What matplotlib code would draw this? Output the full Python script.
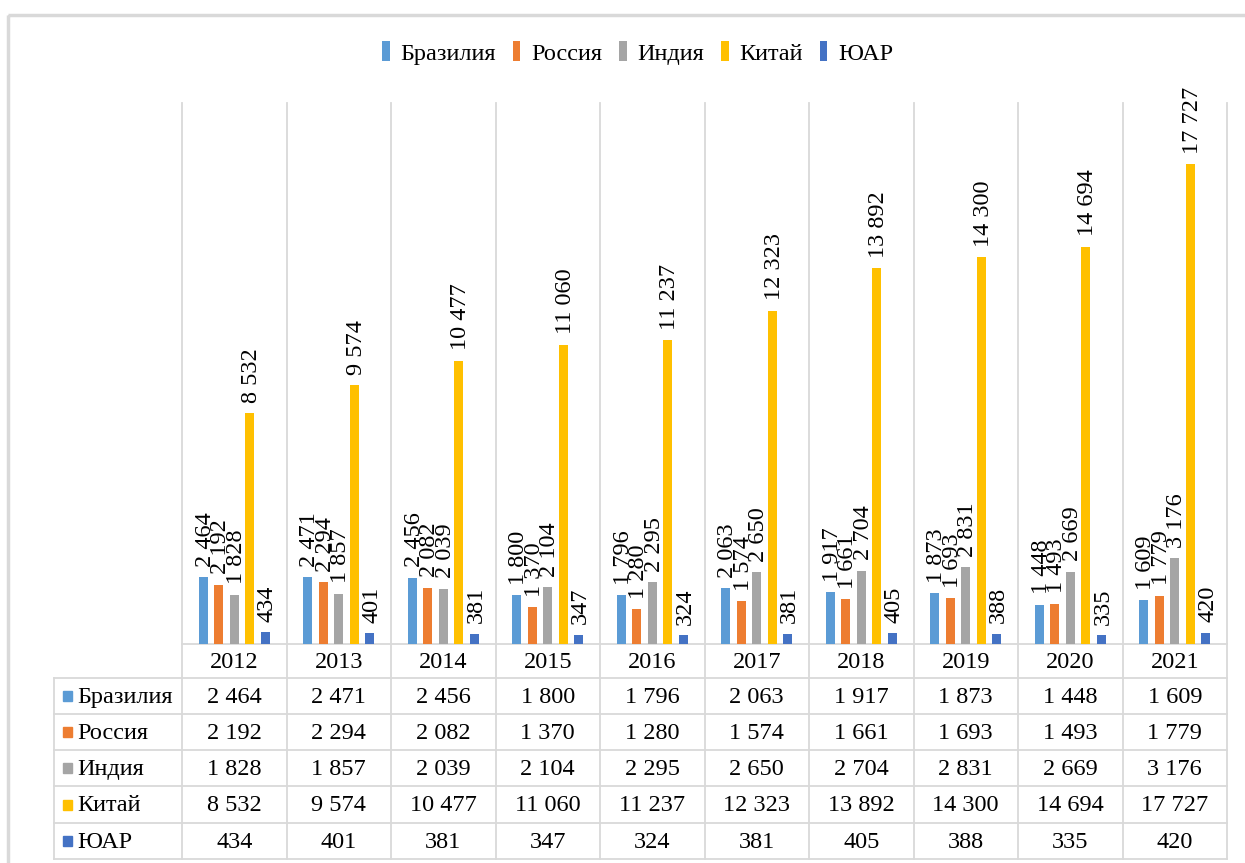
import numpy as np
import matplotlib
matplotlib.use("Agg")
import matplotlib.pyplot as plt
from matplotlib.patches import Rectangle

plt.rcParams['font.family'] = ['Liberation Serif', 'DejaVu Serif']

years = ['2012', '2013', '2014', '2015', '2016', '2017', '2018', '2019', '2020', '2021']
countries = ['Бразилия', 'Россия', 'Индия', 'Китай', 'ЮАР']
brazil = [2464, 2471, 2456, 1800, 1796, 2063, 1917, 1873, 1448, 1609]
russia = [2192, 2294, 2082, 1370, 1280, 1574, 1661, 1693, 1493, 1779]
india = [1828, 1857, 2039, 2104, 2295, 2650, 2704, 2831, 2669, 3176]
china = [8532, 9574, 10477, 11060, 11237, 12323, 13892, 14300, 14694, 17727]
sa = [434, 401, 381, 347, 324, 381, 405, 388, 335, 420]
series = [brazil, russia, india, china, sa]
colors = ['#5B9BD5', '#ED7D31', '#A5A5A5', '#FFC000', '#4472C4']

W, H = 1245, 863
fig = plt.figure(figsize=(W / 100, H / 100), dpi=100)
grid_c = '#D9D9D9'
fs = 17.5


def fmt(v):
    return f"{v:,}".replace(",", " ")


# pixel layout
x0, x1 = 182, 1227     # category area
y_top, y_base = 103, 644
lab_x = 54
row_lines = [644, 678, 714, 750, 786, 823, 859]

# overlay in pixel coordinates for frame, grid and table
ov = fig.add_axes([0, 0, 1, 1], zorder=0)
ov.set_xlim(0, W)
ov.set_ylim(H, 0)
ov.axis('off')
ov.add_patch(Rectangle((8, 15), W + 10, H, fill=False, ec=grid_c, lw=2.5))

n = len(years)
cw = (x1 - x0) / n
for i in range(n + 1):
    ov.plot([x0 + i * cw] * 2, [y_top, row_lines[-1]], color=grid_c, lw=1.3)
ov.plot([lab_x, lab_x], [row_lines[1], row_lines[-1]], color=grid_c, lw=1.3)
ov.plot([x0, x1], [row_lines[0]] * 2, color=grid_c, lw=1.3)
for y in row_lines[1:]:
    ov.plot([lab_x, x1], [y, y], color=grid_c, lw=1.3)

# header years
for i, yr in enumerate(years):
    ov.text(x0 + (i + 0.5) * cw, (row_lines[0] + row_lines[1]) / 2 + 1, yr,
            ha='center', va='center', fontsize=fs)
# rows
for r, (name, vals, c) in enumerate(zip(countries, series, colors)):
    yc = (row_lines[r + 1] + row_lines[r + 2]) / 2 + 1
    ov.add_patch(Rectangle((63, yc - 6), 9, 10, color=c))
    ov.text(77, yc, name, ha='left', va='center', fontsize=fs)
    for i, v in enumerate(vals):
        ov.text(x0 + (i + 0.5) * cw, yc, fmt(v), ha='center', va='center', fontsize=fs)

# bar chart
ax = fig.add_axes([x0 / W, (H - y_base) / H, (x1 - x0) / W, (y_base - y_top) / H], zorder=1)
ax.patch.set_alpha(0)
x = np.arange(n)
step = 0.148
bw = 0.085
handles = []
for k, (name, vals, c) in enumerate(zip(countries, series, colors)):
    pos = x + (k - 2) * step
    b = ax.bar(pos, vals, width=bw, color=c, label=name)
    handles.append(b)
    for p, v in zip(pos, vals):
        ax.annotate(fmt(v), (p, v), xytext=(1.5, 7.5), textcoords='offset points',
                    rotation=90, ha='center', va='bottom', fontsize=fs)
ax.set_xlim(-0.5, n - 0.5)
ax.set_ylim(0, 20000)
ax.axis('off')

fig.legend(handles=handles, labels=countries, loc='center', bbox_to_anchor=(638 / W, 1 - 53 / H),
           ncol=5, frameon=False, fontsize=fs, handlelength=0.3, handleheight=0.9,
           handletextpad=0.45, columnspacing=0.7)

fig.savefig('out.png', dpi=100)
